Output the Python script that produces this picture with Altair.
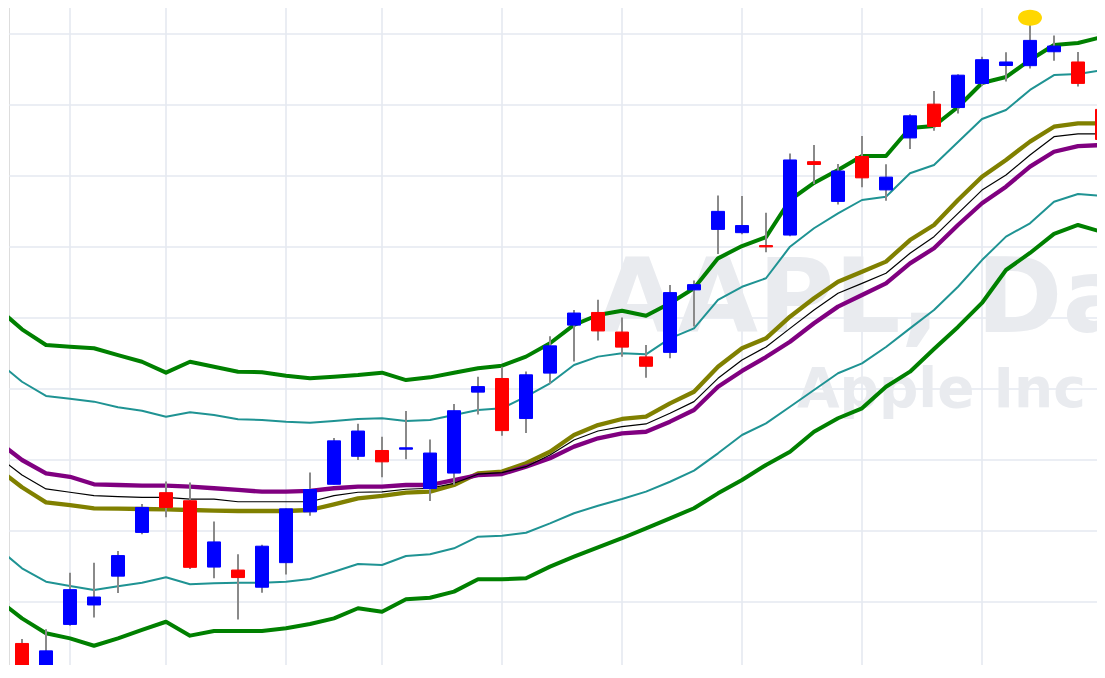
import altair as alt
import pandas as pd

# ---------------- data (AAPL daily, Jun 16 - Aug 22 2022) ----------------
dates = ["2022-06-16", "2022-06-17", "2022-06-21", "2022-06-22", "2022-06-23", "2022-06-24",
         "2022-06-27", "2022-06-28", "2022-06-29", "2022-06-30", "2022-07-01", "2022-07-05",
         "2022-07-06", "2022-07-07", "2022-07-08", "2022-07-11", "2022-07-12", "2022-07-13",
         "2022-07-14", "2022-07-15", "2022-07-18", "2022-07-19", "2022-07-20", "2022-07-21",
         "2022-07-22", "2022-07-25", "2022-07-26", "2022-07-27", "2022-07-28", "2022-07-29",
         "2022-08-01", "2022-08-02", "2022-08-03", "2022-08-04", "2022-08-05", "2022-08-08",
         "2022-08-09", "2022-08-10", "2022-08-11", "2022-08-12", "2022-08-15", "2022-08-16",
         "2022-08-17", "2022-08-18", "2022-08-19", "2022-08-22"]
open_ = [132.08, 130.07, 133.42, 134.79, 136.82, 139.90, 142.70, 142.13, 137.46, 137.25, 136.04,
         137.77, 141.35, 143.29, 145.26, 145.67, 145.76, 142.99, 144.08, 149.78, 150.74, 147.92,
         151.12, 154.50, 155.39, 154.01, 152.26, 152.58, 156.98, 161.24, 161.01, 160.10, 160.84,
         166.01, 163.21, 166.37, 164.02, 167.68, 170.06, 169.82, 171.52, 172.78, 172.77, 173.75,
         173.03, 169.69]
high = [132.39, 133.08, 137.06, 137.76, 138.59, 141.91, 143.49, 143.42, 140.67, 138.37, 139.04,
        141.61, 144.12, 146.55, 147.55, 146.64, 148.45, 146.45, 148.95, 150.86, 151.57, 151.23,
        153.72, 155.57, 156.28, 155.04, 153.09, 157.33, 157.64, 163.63, 163.59, 162.41, 166.59,
        167.19, 165.85, 167.81, 165.82, 169.34, 170.99, 172.17, 173.39, 173.71, 176.15, 174.90,
        173.74, 169.86]
low = [129.04, 129.81, 133.32, 133.91, 135.63, 139.77, 140.97, 137.32, 136.67, 133.77, 135.66,
       136.93, 141.08, 143.28, 145.00, 143.78, 145.05, 142.12, 143.25, 148.20, 146.70, 146.91,
       150.37, 151.94, 153.41, 152.28, 150.80, 152.16, 154.41, 159.50, 160.89, 159.63, 160.75,
       164.43, 163.00, 164.20, 163.25, 166.90, 168.19, 169.40, 171.35, 171.66, 172.57, 173.12,
       171.31, 167.14]
close = [130.06, 131.56, 135.87, 135.35, 138.27, 141.66, 141.66, 137.44, 139.23, 136.72, 138.93,
         141.56, 142.92, 146.35, 147.04, 144.87, 145.86, 145.49, 148.47, 150.17, 147.07, 151.00,
         153.04, 155.35, 154.09, 152.95, 151.60, 156.79, 157.35, 162.51, 161.51, 160.01, 166.13,
         165.81, 165.35, 164.87, 164.92, 169.24, 168.49, 172.10, 173.19, 173.03, 174.55, 174.15,
         171.52, 167.57]

# band lines, first value is the bar before the visible window (index -1)
green_upper = [155.68, 154.20, 153.10, 152.98, 152.87, 152.39, 151.92, 151.15, 151.92, 151.57,
               151.22, 151.18, 150.94, 150.75, 150.87, 150.99, 151.15, 150.63, 150.82, 151.15,
               151.46, 151.64, 152.28, 153.22, 154.51, 155.21, 155.51, 155.16, 156.04, 157.09,
               159.20, 160.07, 160.70, 163.31, 164.51, 165.42, 166.41, 166.41, 168.38, 168.52,
               169.86, 171.55, 171.97, 173.17, 174.23, 174.37, 174.79]
teal_upper = [151.90, 150.51, 149.51, 149.32, 149.11, 148.71, 148.47, 148.05, 148.36, 148.17,
              147.87, 147.82, 147.70, 147.63, 147.75, 147.89, 147.94, 147.75, 147.82, 148.17,
              148.52, 148.64, 149.46, 150.40, 151.69, 152.28, 152.51, 152.44, 153.57, 154.27,
              156.27, 157.20, 157.80, 160.02, 161.32, 162.37, 163.31, 163.54, 165.19, 165.77,
              167.39, 169.01, 169.65, 171.06, 172.11, 172.18, 172.46]
purple_mid = [146.30, 145.00, 144.06, 143.82, 143.29, 143.24, 143.19, 143.19, 143.12, 143.01,
              142.89, 142.77, 142.77, 142.82, 143.01, 143.12, 143.12, 143.24, 143.24, 143.59,
              143.94, 144.01, 144.53, 145.12, 145.94, 146.53, 146.88, 146.99, 147.70, 148.52,
              150.16, 151.27, 152.25, 153.33, 154.63, 155.80, 156.62, 157.44, 158.85, 159.91,
              161.55, 163.08, 164.25, 165.66, 166.71, 167.11, 167.18]
black_mid = [145.25, 143.94, 142.96, 142.73, 142.49, 142.42, 142.37, 142.37, 142.25, 142.25,
             142.06, 142.06, 142.06, 142.06, 142.49, 142.73, 142.75, 142.94, 143.01, 143.36,
             144.00, 144.11, 144.53, 145.35, 146.41, 147.04, 147.35, 147.54, 148.29, 149.11,
             150.75, 152.04, 152.96, 154.27, 155.56, 156.74, 157.44, 158.15, 159.56, 160.73,
             162.37, 164.01, 165.07, 166.48, 167.77, 167.96, 167.96]
olive_mid = [144.38, 143.08, 142.02, 141.83, 141.60, 141.57, 141.55, 141.53, 141.48, 141.43,
             141.41, 141.41, 141.41, 141.48, 141.88, 142.30, 142.47, 142.70, 142.77, 143.24,
             144.06, 144.18, 144.77, 145.58, 146.76, 147.46, 147.89, 148.05, 148.99, 149.81,
             151.57, 152.87, 153.57, 155.09, 156.39, 157.56, 158.26, 158.97, 160.49, 161.55,
             163.31, 164.95, 166.13, 167.42, 168.47, 168.71, 168.71]
teal_lower = [138.80, 137.37, 136.43, 136.13, 135.85, 136.11, 136.36, 136.74, 136.25, 136.32,
              136.36, 136.36, 136.43, 136.62, 137.13, 137.68, 137.61, 138.24, 138.36, 138.78,
              139.60, 139.67, 139.88, 140.54, 141.25, 141.78, 142.25, 142.77, 143.47, 144.25,
              145.47, 146.76, 147.58, 148.75, 149.93, 151.11, 151.81, 152.96, 154.27, 155.56,
              157.20, 159.08, 160.73, 161.67, 163.19, 163.73, 163.59]
green_lower = [135.15, 133.85, 132.80, 132.44, 131.92, 132.44, 133.03, 133.61, 132.63, 132.96,
               132.96, 132.96, 133.15, 133.45, 133.85, 134.56, 134.32, 135.19, 135.30, 135.73,
               136.60, 136.60, 136.67, 137.49, 138.19, 138.85, 139.49, 140.19, 140.89, 141.60,
               142.65, 143.59, 144.65, 145.58, 146.99, 147.94, 148.64, 150.16, 151.22, 152.82,
               154.37, 156.06, 158.38, 159.58, 160.92, 161.55, 161.06]

price_grid = [130, 135, 140, 145, 150, 155, 160, 165, 170, 175]
watermark_main = "AAPL, Daily"
watermark_sub = "Apple Inc"

# ---------------- tables ----------------
candles = pd.DataFrame({"i": list(range(len(dates))), "date": dates, "open": open_,
                        "high": high, "low": low, "close": close})
candles["dir"] = ["up" if c >= o else "down" for o, c in zip(open_, close)]

d = pd.to_datetime(candles["date"])
week = d.dt.isocalendar().week.astype(int).tolist()
week_start = [i for i in range(len(d)) if i > 0 and week[i] != week[i - 1]]

peak = candles[candles["high"] == candles["high"].max()]

line_idx = list(range(-1, len(dates)))
series = [
    ("green_upper", green_upper, "#008000", 4),
    ("green_lower", green_lower, "#008000", 4),
    ("teal_upper", teal_upper, "#1f9393", 2),
    ("teal_lower", teal_lower, "#1f9393", 2),
    ("olive", olive_mid, "#808000", 4.3),
    ("purple", purple_mid, "#800080", 4.3),
    ("black", black_mid, "#000000", 1.2),
]

PW = 1088   # plot width in px (starts at page x = 9)
PH = 659    # plot height in px (starts at page y = 6)
xs = alt.Scale(domain=[-13 / 24, (PW - 13) / 24], nice=False, zero=False, padding=0)
ys = alt.Scale(domain=[130 + (667 - PH) / 14.2, 176.972], nice=False, zero=False, padding=0)
X = lambda f: alt.X(f, scale=xs, axis=None)
Y = lambda f: alt.Y(f, scale=ys, axis=None)

layers = []

# grid lines
layers.append(alt.Chart(pd.DataFrame({"p": price_grid})).mark_rule(
    color="#e5e9f0", strokeWidth=1.6).encode(y=Y("p:Q")))
layers.append(alt.Chart(pd.DataFrame({"w": week_start})).mark_rule(
    color="#e5e9f0", strokeWidth=1.6).encode(x=X("w:Q")))

# watermark
wm = pd.DataFrame({"t": [watermark_main], "s": [watermark_sub]})
layers.append(alt.Chart(wm).mark_text(align="left", baseline="alphabetic", font="DejaVu Sans",
                                      fontWeight="bold", fontSize=104, color="#e9ebef", clip=True)
              .encode(x=alt.value(588), y=alt.value(326), text="t:N"))
layers.append(alt.Chart(wm).mark_text(align="left", baseline="alphabetic", font="DejaVu Sans",
                                      fontWeight="bold", fontSize=55, color="#e9ebef", clip=True)
              .encode(x=alt.value(788), y=alt.value(401), text="s:N"))

for name, vals, col, w in series:
    df = pd.DataFrame({"i": line_idx, "v": vals})
    layers.append(alt.Chart(df).mark_line(color=col, strokeWidth=w, clip=True,
                                          strokeJoin="round").encode(x=X("i:Q"), y=Y("v:Q")))

base = alt.Chart(candles)
layers.append(base.mark_rule(color="#8a8a8a", strokeWidth=2, clip=True).encode(
    x=X("i:Q"), y=Y("low:Q"), y2="high:Q"))
cscale = alt.Scale(domain=["up", "down"], range=["#0000ff", "#ff0000"])
layers.append(base.mark_bar(size=13, strokeWidth=1, clip=True).encode(
    x=X("i:Q"), y=Y("open:Q"), y2="close:Q",
    color=alt.Color("dir:N", scale=cscale, legend=None),
    stroke=alt.Stroke("dir:N", scale=cscale, legend=None)))

layers.append(alt.Chart(peak).mark_point(
    shape="M-1,0 A1,0.667 0 1,1 1,0 A1,0.667 0 1,1 -1,0 Z", size=576, filled=True,
    color="#ffd700", opacity=1, clip=True).encode(x=X("i:Q"), y=Y("high:Q")))

chart = alt.layer(*layers).properties(
    width=PW, height=PH,
    autosize=alt.AutoSizeParams(type="none"),
    padding={"left": 1, "top": -2, "right": 0, "bottom": 0},
).configure_view(strokeWidth=0, fill="#f5f7fa").configure(background="#ffffff")

chart.save("out.html", embed_options={"renderer": "svg", "actions": False})
